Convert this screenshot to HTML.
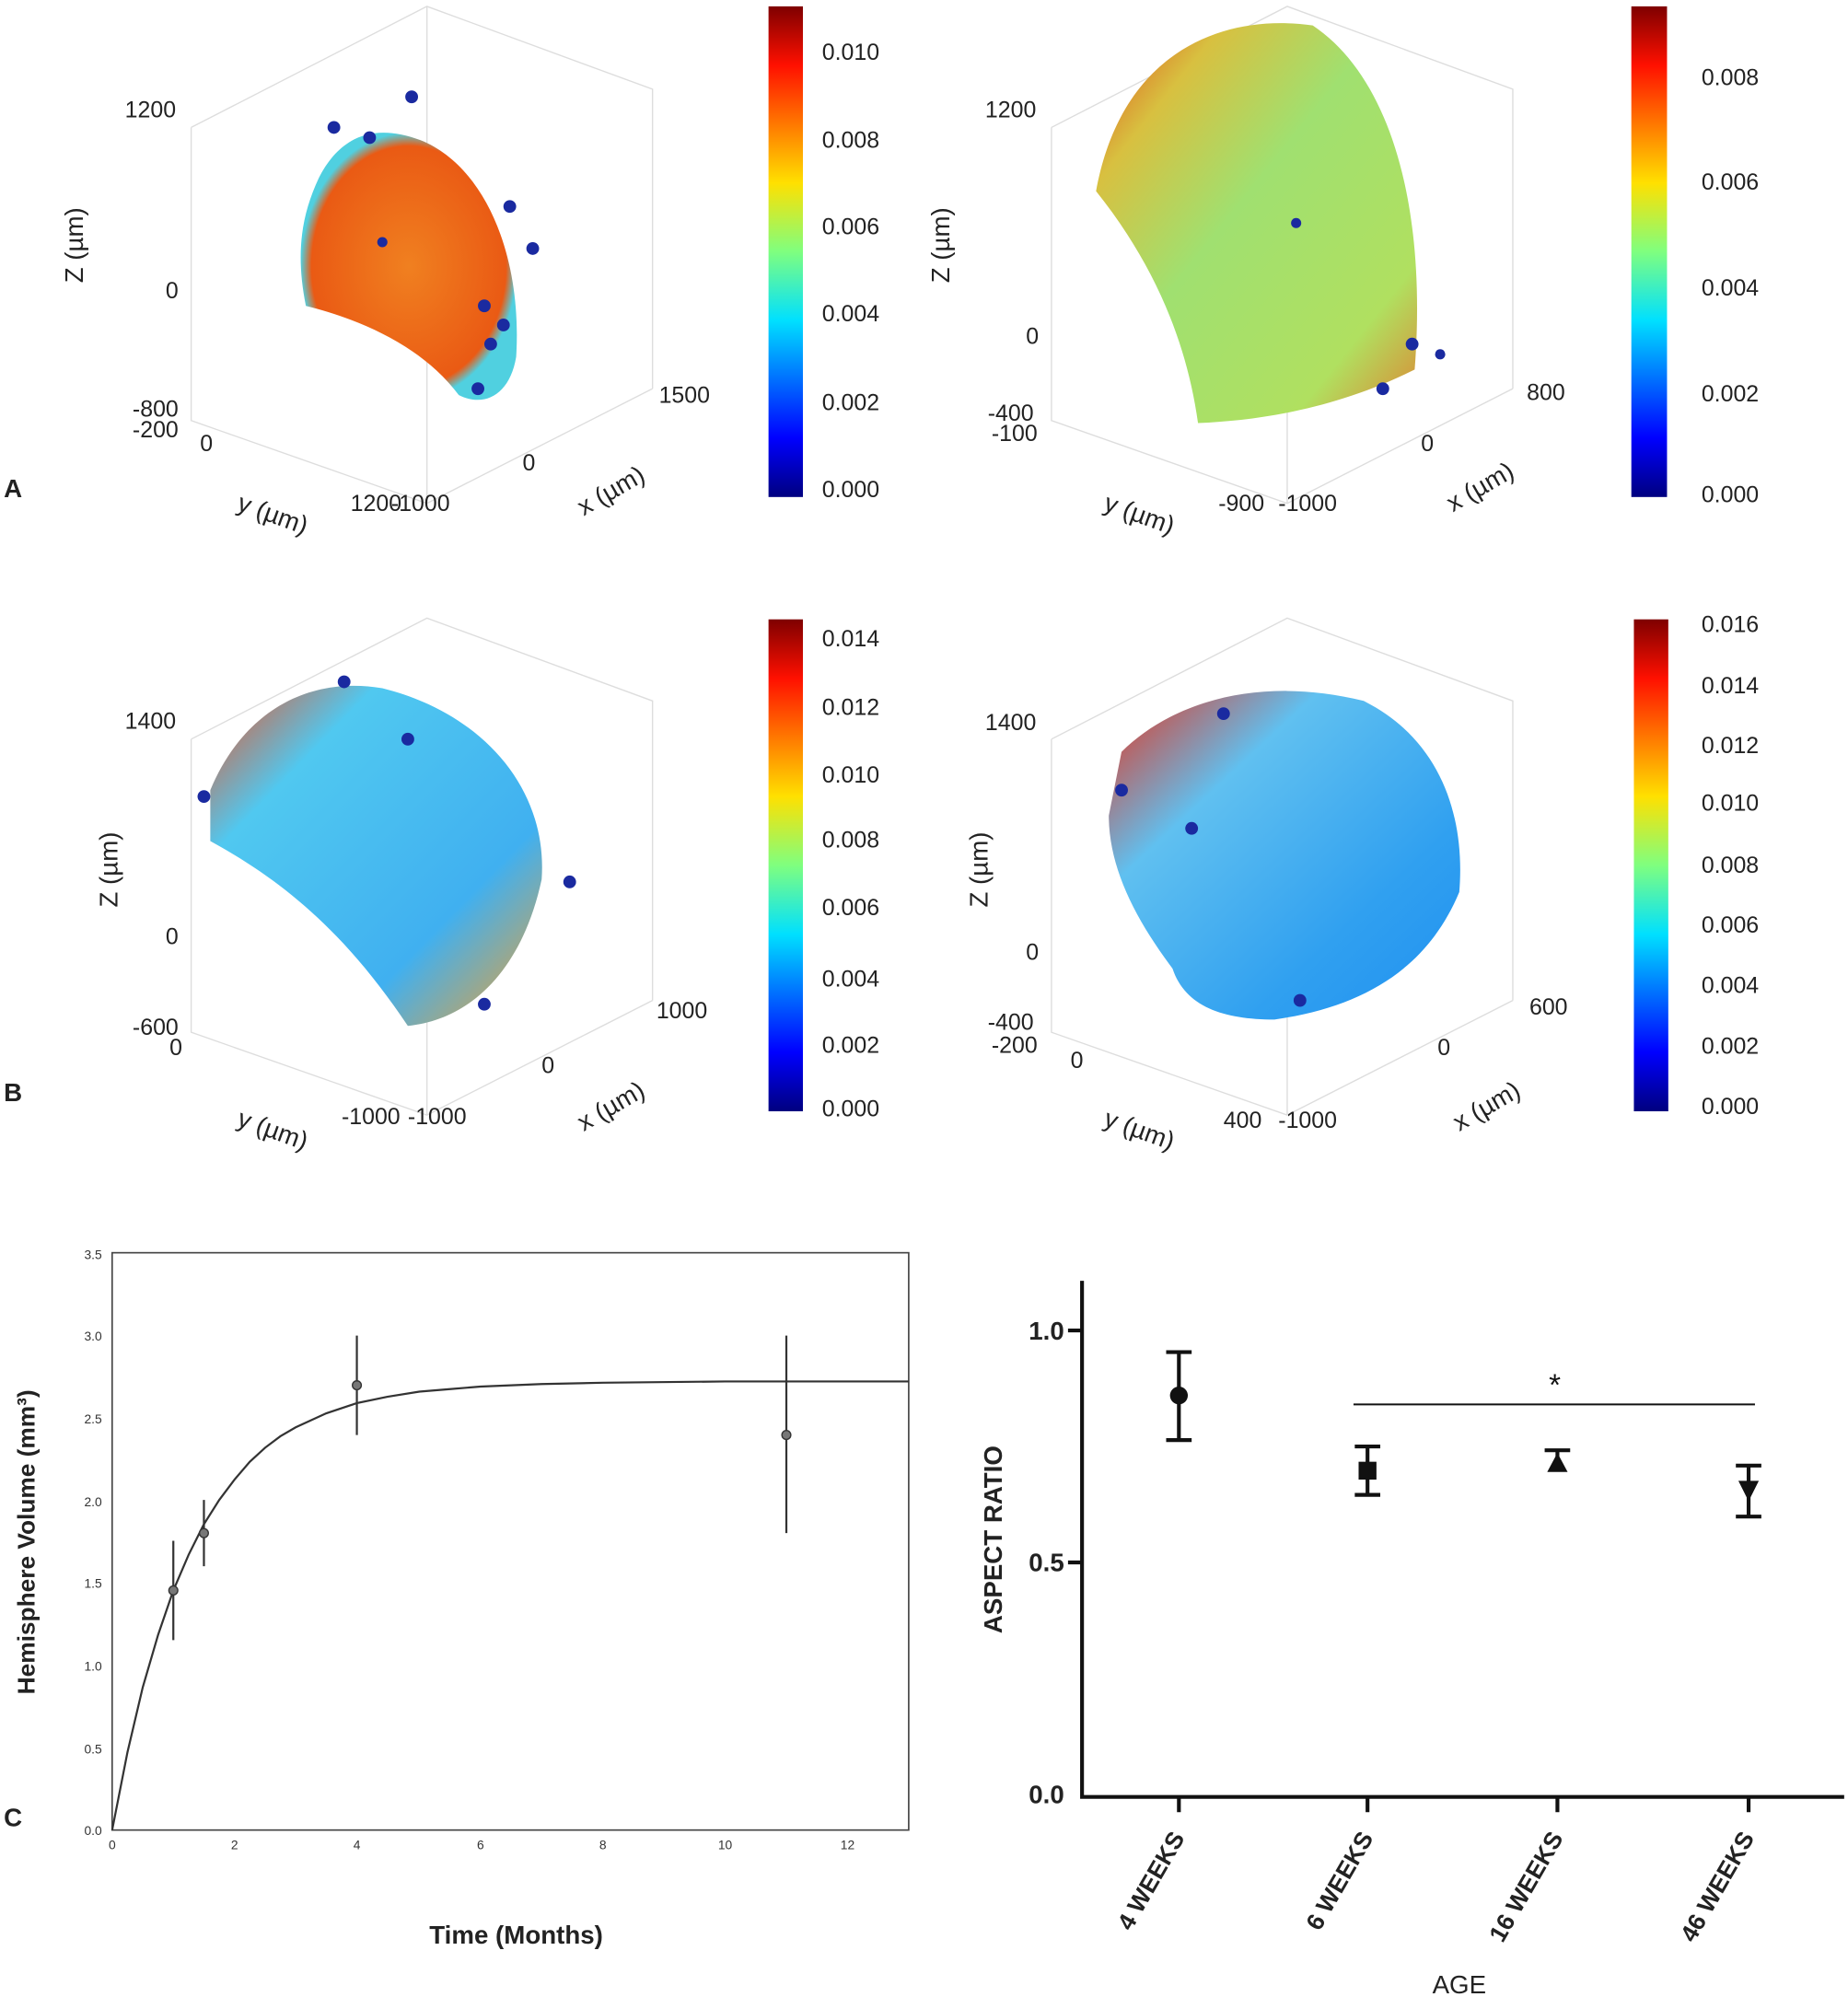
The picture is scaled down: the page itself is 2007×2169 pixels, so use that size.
<!DOCTYPE html><html><head><style>body{margin:0;background:#fff}svg{display:block}text{font-family:"Liberation Sans",sans-serif}</style></head><body>
<svg width="2007" height="2169" viewBox="0 0 1450 1567" preserveAspectRatio="none" xmlns="http://www.w3.org/2000/svg">
<defs>
<linearGradient id="jet" x1="0" y1="1" x2="0" y2="0"><stop offset="0" stop-color="#00007f"/><stop offset=".12" stop-color="#0000ff"/><stop offset=".36" stop-color="#00e0ff"/><stop offset=".5" stop-color="#7fff7f"/><stop offset=".64" stop-color="#ffe000"/><stop offset=".88" stop-color="#ff1000"/><stop offset="1" stop-color="#7f0000"/></linearGradient>
<radialGradient id="orange"><stop offset="0" stop-color="#f08020"/><stop offset=".9" stop-color="#ea5a14"/><stop offset="1" stop-color="#50d0e0"/></radialGradient>
<linearGradient id="green" x1="0" y1="0" x2="1" y2="1"><stop offset="0" stop-color="#e04018"/><stop offset=".2" stop-color="#d8c040"/><stop offset=".45" stop-color="#a0e070"/><stop offset=".8" stop-color="#b0e060"/><stop offset="1" stop-color="#e08030"/></linearGradient>
<linearGradient id="cyan" x1="0" y1="0" x2="1" y2="1"><stop offset="0" stop-color="#f05020"/><stop offset=".25" stop-color="#50c8f0"/><stop offset=".7" stop-color="#40b0f0"/><stop offset="1" stop-color="#f0a030"/></linearGradient>
<linearGradient id="blue" x1="0" y1="0" x2="1" y2="1"><stop offset="0" stop-color="#e83018"/><stop offset=".3" stop-color="#60c0f0"/><stop offset=".7" stop-color="#30a0f0"/><stop offset="1" stop-color="#2090f0"/></linearGradient>
</defs>
<g stroke="#ddd" stroke-width="1" fill="none">
<path d="M150 100 L150 330 L335 395 L512 305 M335 395 L335 170 M150 100 L335 5 L512 70 L512 305 M335 5 L335 170"/>
<path d="M825 100 L825 330 L1010 395 L1187 305 M1010 395 L1010 170 M825 100 L1010 5 L1187 70 L1187 305"/>
<path d="M150 580 L150 810 L335 875 L512 785 M335 875 L335 650 M150 580 L335 485 L512 550 L512 785"/>
<path d="M825 580 L825 810 L1010 875 L1187 785 M1010 875 L1010 650 M825 580 L1010 485 L1187 550 L1187 785"/>
</g>
<path d="M250 140 C265 110 290 95 330 110 C380 130 410 200 405 280 C400 310 380 320 360 310 C330 270 280 250 240 240 C232 200 236 170 250 140 Z" fill="url(#orange)"/>
<path d="M860 150 C880 40 960 10 1030 20 C1090 60 1120 160 1110 290 C1050 320 990 330 940 332 C930 260 900 200 860 150 Z" fill="url(#green)"/>
<path d="M165 620 C190 560 240 530 300 540 C380 560 430 620 425 690 C410 760 370 800 320 805 C270 730 220 690 165 660 Z" fill="url(#cyan)"/>
<path d="M880 590 C920 550 990 530 1070 550 C1130 580 1150 640 1145 700 C1120 760 1070 790 1000 800 C960 800 930 790 920 760 C890 720 870 680 870 640 Z" fill="url(#blue)"/>
<g fill="#1a2aa0"><circle cx="323" cy="76" r="5"/><circle cx="400" cy="162" r="5"/><circle cx="418" cy="195" r="5"/><circle cx="385" cy="270" r="5"/><circle cx="290" cy="108" r="5"/><circle cx="262" cy="100" r="5"/><circle cx="300" cy="190" r="4"/><circle cx="380" cy="240" r="5"/><circle cx="395" cy="255" r="5"/><circle cx="375" cy="305" r="5"/><circle cx="1017" cy="175" r="4"/><circle cx="1130" cy="278" r="4"/><circle cx="1108" cy="270" r="5"/><circle cx="1085" cy="305" r="5"/><circle cx="447" cy="692" r="5"/><circle cx="380" cy="788" r="5"/><circle cx="270" cy="535" r="5"/><circle cx="160" cy="625" r="5"/><circle cx="320" cy="580" r="5"/><circle cx="935" cy="650" r="5"/><circle cx="880" cy="620" r="5"/><circle cx="960" cy="560" r="5"/><circle cx="1020" cy="785" r="5"/></g>
<g fill="url(#jet)"><rect x="603" y="5" width="27" height="385"/><rect x="1280" y="5" width="28" height="385"/><rect x="603" y="486" width="27" height="386"/><rect x="1282" y="486" width="27" height="386"/></g>
<g font-size="18" fill="#222">
<text x="645" y="47">0.010</text><text x="645" y="116">0.008</text><text x="645" y="184">0.006</text><text x="645" y="252">0.004</text><text x="645" y="322">0.002</text><text x="645" y="390">0.000</text>
<text x="1335" y="67">0.008</text><text x="1335" y="149">0.006</text><text x="1335" y="232">0.004</text><text x="1335" y="315">0.002</text><text x="1335" y="394">0.000</text>
<text x="645" y="507">0.014</text><text x="645" y="561">0.012</text><text x="645" y="614">0.010</text><text x="645" y="665">0.008</text><text x="645" y="718">0.006</text><text x="645" y="774">0.004</text><text x="645" y="826">0.002</text><text x="645" y="876">0.000</text>
<text x="1335" y="496">0.016</text><text x="1335" y="544">0.014</text><text x="1335" y="591">0.012</text><text x="1335" y="636">0.010</text><text x="1335" y="685">0.008</text><text x="1335" y="732">0.006</text><text x="1335" y="779">0.004</text><text x="1335" y="827">0.002</text><text x="1335" y="874">0.000</text>
<text x="98" y="92">1200</text><text x="130" y="234">0</text><text x="104" y="327">-800</text><text x="104" y="343">-200</text><text x="157" y="354">0</text><text x="275" y="401">1200</text><text x="307" y="401">-1000</text><text x="410" y="369">0</text><text x="517" y="316">1500</text>
<text x="773" y="92">1200</text><text x="805" y="270">0</text><text x="775" y="330">-400</text><text x="778" y="346">-100</text><text x="956" y="401">-900</text><text x="1003" y="401">-1000</text><text x="1115" y="354">0</text><text x="1198" y="314">800</text>
<text x="98" y="572">1400</text><text x="130" y="741">0</text><text x="104" y="812">-600</text><text x="133" y="828">0</text><text x="268" y="882">-1000</text><text x="320" y="882">-1000</text><text x="425" y="842">0</text><text x="515" y="799">1000</text>
<text x="773" y="573">1400</text><text x="805" y="753">0</text><text x="775" y="808">-400</text><text x="778" y="826">-200</text><text x="840" y="838">0</text><text x="960" y="885">400</text><text x="1003" y="885">-1000</text><text x="1128" y="828">0</text><text x="1200" y="796">600</text>
</g>
<g font-size="20" fill="#222">
<text transform="translate(65 222) rotate(-90)">Z (µm)</text><text transform="translate(745 222) rotate(-90)">Z (µm)</text>
<text transform="translate(92 712) rotate(-90)">Z (µm)</text><text transform="translate(775 712) rotate(-90)">Z (µm)</text>
<text transform="translate(185 400) rotate(20)">y (µm)</text><text transform="translate(865 400) rotate(20)">y (µm)</text>
<text transform="translate(185 883) rotate(20)">y (µm)</text><text transform="translate(865 883) rotate(20)">y (µm)</text>
<text transform="translate(458 405) rotate(-30)">x (µm)</text><text transform="translate(1140 402) rotate(-30)">x (µm)</text>
<text transform="translate(458 888) rotate(-30)">x (µm)</text><text transform="translate(1145 888) rotate(-30)">x (µm)</text>
</g>
<g font-size="20" font-weight="bold" fill="#222"><text x="3" y="390">A</text><text x="3" y="864">B</text><text x="3" y="1433">C</text></g>
<rect x="88" y="983" width="625" height="453" fill="none" stroke="#444" stroke-width="1.2"/>
<g font-size="10" fill="#333" text-anchor="end">
<text x="80" y="1440">0.0</text><text x="80" y="1376">0.5</text><text x="80" y="1311">1.0</text><text x="80" y="1246">1.5</text><text x="80" y="1182">2.0</text><text x="80" y="1117">2.5</text><text x="80" y="1052">3.0</text><text x="80" y="988">3.5</text></g>
<g font-size="10" fill="#333" text-anchor="middle">
<text x="88" y="1451">0</text><text x="184" y="1451">2</text><text x="280" y="1451">4</text><text x="377" y="1451">6</text><text x="473" y="1451">8</text><text x="569" y="1451">10</text><text x="665" y="1451">12</text></g>
<text x="405" y="1525" font-size="20" font-weight="bold" text-anchor="middle" fill="#222">Time (Months)</text>
<text transform="translate(27 1210) rotate(-90)" font-size="19" font-weight="bold" text-anchor="middle" fill="#222">Hemisphere Volume (mm³)</text>
<path fill="none" stroke="#333" stroke-width="1.6" d="M88 1436 L100 1375 L112 1324 L124 1283 L136 1248 L148 1220 L160 1196 L172 1177 L184 1161 L196 1147 L208 1136 L220 1127 L232 1120 L256 1109 L280 1101 L304 1096 L329 1092 L353 1090 L377 1088 L425 1086 L473 1085 L569 1084 L713 1084"/>
<g stroke="#333" stroke-width="1.6"><line x1="136" y1="1209" x2="136" y2="1287"/><line x1="160" y1="1177" x2="160" y2="1229"/><line x1="280" y1="1048" x2="280" y2="1126"/><line x1="617" y1="1048" x2="617" y2="1203"/></g>
<g fill="#777" stroke="#333"><circle cx="136" cy="1248" r="3.5"/><circle cx="160" cy="1203" r="3.5"/><circle cx="280" cy="1087" r="3.5"/><circle cx="617" cy="1126" r="3.5"/></g>
<g stroke="#111" stroke-width="3" fill="none"><path d="M849 1005 L849 1410 L1447 1410"/>
<path d="M838 1044 L849 1044 M838 1226 L849 1226 M925 1410 L925 1422 M1073 1410 L1073 1422 M1222 1410 L1222 1422 M1372 1410 L1372 1422"/>
<path d="M925 1061 L925 1130 M915 1061 L935 1061 M915 1130 L935 1130"/>
<path d="M1073 1135 L1073 1173 M1063 1135 L1083 1135 M1063 1173 L1083 1173"/>
<path d="M1222 1138 L1222 1152 M1212 1138 L1232 1138"/>
<path d="M1372 1150 L1372 1190 M1362 1150 L1382 1150 M1362 1190 L1382 1190"/></g>
<line x1="1062" y1="1102" x2="1377" y2="1102" stroke="#111" stroke-width="1.5"/>
<g fill="#111"><circle cx="925" cy="1095" r="7"/><rect x="1066" y="1147" width="14" height="14"/><path d="M1222 1140 L1230 1155 L1214 1155Z"/><path d="M1364 1162 L1380 1162 L1372 1178Z"/></g>
<text x="1220" y="1095" font-size="24" text-anchor="middle" fill="#111">*</text>
<g font-size="20" font-weight="bold" fill="#222" text-anchor="end"><text x="835" y="1051">1.0</text><text x="835" y="1233">0.5</text><text x="835" y="1415">0.0</text></g>
<text transform="translate(786 1208) rotate(-90)" font-size="20" font-weight="bold" text-anchor="middle" fill="#222">ASPECT RATIO</text>
<g font-size="19" font-weight="bold" fill="#222" text-anchor="end">
<text transform="translate(930 1442) rotate(-60)">4 WEEKS</text><text transform="translate(1078 1442) rotate(-60)">6 WEEKS</text><text transform="translate(1227 1442) rotate(-60)">16 WEEKS</text><text transform="translate(1377 1442) rotate(-60)">46 WEEKS</text></g>
<text x="1145" y="1564" font-size="20" text-anchor="middle" fill="#222">AGE</text>
</svg></body></html>
